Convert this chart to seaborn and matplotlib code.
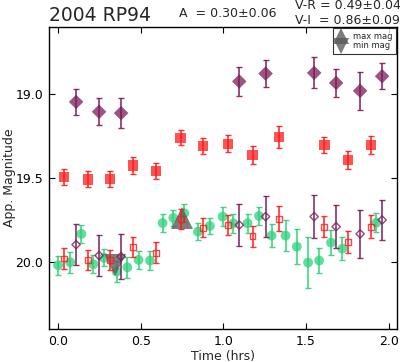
import numpy as np
import pandas as pd
import matplotlib
matplotlib.use("Agg")
import matplotlib.pyplot as plt
import seaborn as sns

# --- data (time in hrs, apparent mag) ---
# V-I band: filled diamonds (I) and colour-shifted open diamonds
i_time = [0.109, 0.248, 0.381, 1.096, 1.255, 1.549, 1.682, 1.827, 1.960]
i_mag = [19.046, 19.105, 19.113, 18.924, 18.877, 18.873, 18.933, 18.980, 18.893]
i_err = [0.076, 0.080, 0.088, 0.087, 0.083, 0.093, 0.086, 0.115, 0.077]
i_shift_mag = [19.897, 19.962, 19.968, 19.780, 19.730, 19.730, 19.790, 19.833, 19.750]
i_shift_err = [0.120, 0.120, 0.135, 0.125, 0.122, 0.130, 0.127, 0.144, 0.120]

# R band: filled squares and colour-shifted open squares
r_time = [0.034, 0.179, 0.314, 0.451, 0.592, 0.741, 0.876, 1.029, 1.176,
          1.337, 1.611, 1.754, 1.893]
r_mag = [19.494, 19.508, 19.506, 19.426, 19.456, 19.260, 19.310, 19.296,
         19.363, 19.256, 19.305, 19.393, 19.302]
r_err = [0.048, 0.048, 0.050, 0.050, 0.048, 0.045, 0.047, 0.050, 0.053,
         0.066, 0.048, 0.055, 0.055]
r_shift_mag = [19.980, 19.990, 19.988, 19.911, 19.945, 19.744, 19.796,
               19.780, 19.847, 19.742, 19.790, 19.879, 19.790]
r_shift_err = [0.060, 0.058, 0.060, 0.060, 0.061, 0.060, 0.058, 0.058,
               0.062, 0.075, 0.061, 0.065, 0.067]

# V band: green circles
v_time = [0.000, 0.073, 0.141, 0.213, 0.278, 0.354, 0.419, 0.487, 0.556,
          0.632, 0.697, 0.764, 0.846, 0.918, 0.995, 1.060, 1.146, 1.215,
          1.291, 1.376, 1.444, 1.512, 1.579, 1.651, 1.720, 1.925]
v_mag = [20.020, 20.002, 19.833, 20.014, 19.976, 20.058, 20.032, 19.988,
         19.992, 19.768, 19.738, 19.710, 19.820, 19.786, 19.730, 19.770,
         19.770, 19.726, 19.843, 19.843, 19.909, 20.004, 19.992, 19.885,
         19.921, 19.766]
v_err = [0.058, 0.062, 0.052, 0.054, 0.050, 0.061, 0.062, 0.055, 0.057,
         0.055, 0.048, 0.053, 0.050, 0.050, 0.055, 0.058, 0.057, 0.055,
         0.067, 0.090, 0.104, 0.154, 0.075, 0.073, 0.068, 0.056]

# light curve extrema
max_time, max_mag = [0.752], [19.737]
min_time, min_mag = [0.347], [20.021]

OBJECT = "2004 RP94"
AMP = "A  = 0.30\u00b10.06"
VR = "V-R = 0.49\u00b10.04"
VI = "V-I  = 0.86\u00b10.09"

GREEN = "#2bd27a"
RED = "#ff1a1a"
PURPLE = "#7d1b58"
GREY = "#5c5c5c"

sns.set_style("ticks")
plt.rcParams["font.family"] = ["DejaVu Sans"]
plt.rcParams["xtick.direction"] = "in"
plt.rcParams["ytick.direction"] = "in"

fig = plt.figure(figsize=(4.0, 3.62), dpi=100)
ax = fig.add_axes([0.1225, 0.0912, 0.87, 0.834])


def band(t, m, e, color, marker, size, filled, ecolor, z):
    ax.errorbar(t, m, yerr=e, fmt="none", ecolor=ecolor, elinewidth=1.2,
                capsize=2.5, capthick=1.0, alpha=0.9, zorder=z)
    df = pd.DataFrame({"t": t, "m": m})
    if filled:
        sns.scatterplot(data=df, x="t", y="m", ax=ax, marker=marker, s=size,
                        color=color, edgecolor="none", alpha=0.75,
                        zorder=z + 0.5, legend=False)
    else:
        sns.scatterplot(data=df, x="t", y="m", ax=ax, marker=marker, s=size,
                        facecolor="none", edgecolor=color, linewidth=1.0,
                        alpha=0.8, zorder=z + 0.5, legend=False)


band(v_time, v_mag, v_err, GREEN, "o", 50, True, GREEN, 2)
band(r_time, r_mag, r_err, RED, "s", 55, True, RED, 3)
band(i_time, i_mag, i_err, PURPLE, "D", 55, True, PURPLE, 3)

# extrema markers (big grey triangles)
ax.plot(max_time, max_mag, linestyle="none", marker="^", markersize=16,
        color=GREY, markeredgewidth=0, alpha=0.8, zorder=4, label="max mag")
ax.plot(min_time, min_mag, linestyle="none", marker="v", markersize=16,
        color=GREY, markeredgewidth=0, alpha=0.8, zorder=4, label="min mag")

band(r_time, r_shift_mag, r_shift_err, RED, "s", 18, False, RED, 5)
band(i_time, i_shift_mag, i_shift_err, PURPLE, "D", 18, False, PURPLE, 5)

ax.set_xlim(-0.055, 2.05)
ax.set_ylim(20.4, 18.6)
ax.set_xticks([0.0, 0.5, 1.0, 1.5, 2.0])
ax.set_yticks([19.0, 19.5, 20.0])
ax.set_xlabel("Time (hrs)", fontsize=9, labelpad=2)
ax.set_ylabel("App. Magnitude", fontsize=9)
ax.yaxis.set_label_coords(-0.095, 0.5)
ax.tick_params(axis="both", which="both", top=True, right=True,
               labelsize=9, length=4, width=0.8, pad=4, colors="black")
for s in ax.spines.values():
    s.set_visible(True)
    s.set_linewidth(1.0)
    s.set_color("black")

leg = ax.legend(loc="upper right", fontsize=6, markerscale=0.75, numpoints=1,
                frameon=True, fancybox=False, edgecolor="black",
                handletextpad=0.8, labelspacing=0.1, borderpad=0.4,
                handlelength=1.2, borderaxespad=0.15)
leg.get_frame().set_linewidth(0.8)

fig.text(0.1225, 0.942, OBJECT, fontsize=13.5, va="baseline")
fig.text(0.4475, 0.953, AMP, fontsize=9, va="baseline")
fig.text(0.7375, 0.975, VR, fontsize=9, va="baseline")
fig.text(0.7375, 0.934, VI, fontsize=9, va="baseline")

fig.savefig("out.png", dpi=100)
